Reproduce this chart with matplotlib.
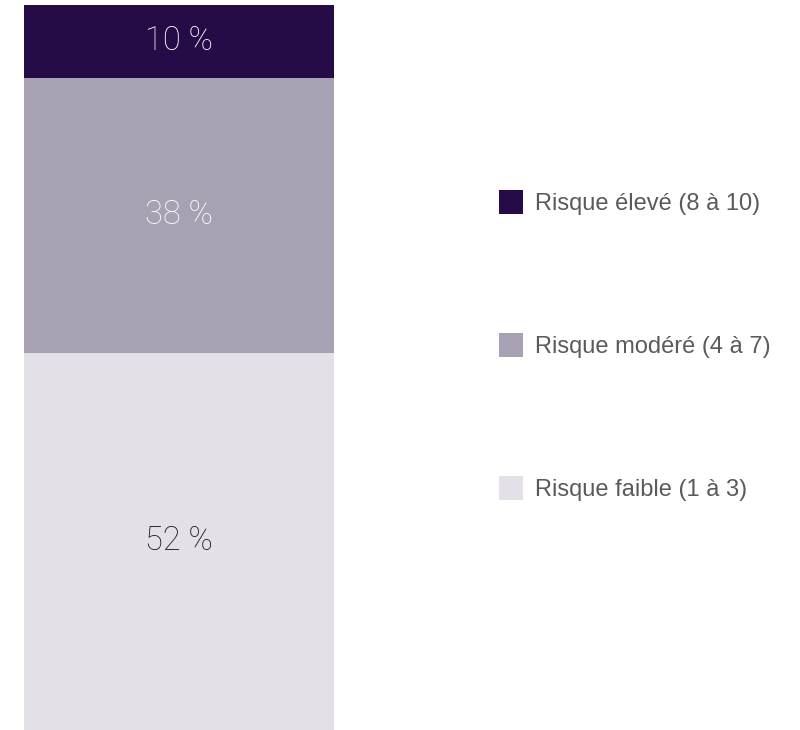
import matplotlib
matplotlib.use("Agg")
import matplotlib.pyplot as plt
from matplotlib.patches import Patch

# data
categories = ["Risque faible (1 à 3)", "Risque modéré (4 à 7)", "Risque élevé (8 à 10)"]
shares = [52, 38, 10]
labels = ["52 %", "38 %", "10 %"]
colors = ["#e3e0e8", "#a8a1b4", "#260c46"]
label_colors = ["#1a1a1a", "#ffffff", "#ffffff"]

W, H = 800, 730
fig = plt.figure(figsize=(W / 100, H / 100), dpi=100)

# bar area in pixels: x 24..334, y 5..730 from top
ax = fig.add_axes([24 / W, 0, 310 / W, 725 / H])
bottom = 0
for val, col, lab, lc in zip(shares, colors, labels, label_colors):
    ax.bar(0, val, bottom=bottom, width=1.0, color=col, linewidth=0)
    ax.text(0, bottom + val / 2, lab, ha="center", va="center",
            fontsize=23.5, color=lc, family="Roboto", fontweight="light")
    bottom += val
ax.set_xlim(-0.5, 0.5)
ax.set_ylim(0, 100)
ax.axis("off")

# legend, top entry first
handles = [Patch(facecolor=c, edgecolor="none") for c in colors[::-1]]
leg = fig.legend(handles, categories[::-1], loc="upper left",
                 bbox_to_anchor=(499 / W, 1 - 190 / H),
                 frameon=False, labelspacing=5.0,
                 borderpad=0, borderaxespad=0,
                 handlelength=1.02, handleheight=1.19, handletextpad=0.5,
                 prop={"family": "Liberation Sans", "size": 17})
for t in leg.get_texts():
    t.set_color("#5a5a5a")

fig.savefig("out.png", dpi=100)
